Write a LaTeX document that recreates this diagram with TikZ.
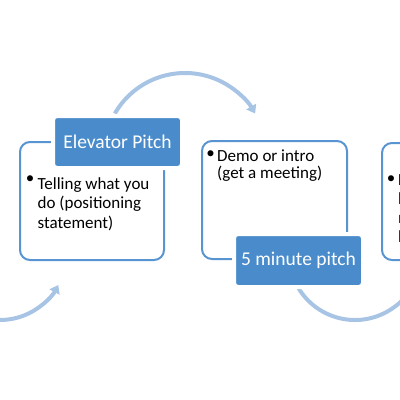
\documentclass[tikz,border=0pt]{standalone}
\usepackage{fontspec}
\setmainfont{Carlito}
\usetikzlibrary{arrows.meta, positioning}
\definecolor{PitchBlue}{RGB}{74, 140, 203}
\definecolor{PitchEdge}{RGB}{88, 148, 210}
\definecolor{PitchArc}{RGB}{168, 196, 229}

\begin{document}
\begin{tikzpicture}[
    x=1pt, y=-1pt,
    >={Triangle[length=8pt, width=11pt]},
    every node/.style={inner sep=0pt},
    stage/.style={rectangle, rounded corners=10pt, draw=PitchEdge, line width=2pt,
                  fill=white, anchor=north west},
    tag/.style={rectangle, rounded corners=4pt, draw=white, line width=4pt,
                fill=PitchBlue, text=white, anchor=north west,
                font=\fontsize{19.5pt}{24pt}\selectfont},
    point/.style={align=left, anchor=north west,
                  font=\fontsize{17pt}{19.5pt}\selectfont},
    dot/.style={font=\fontsize{17pt}{19pt}\selectfont},
    flow/.style={->, draw=PitchArc, line width=4pt}
]

\useasboundingbox (0,0) rectangle (400,400);
\clip (0,0) rectangle (400,400);

% --- Arc centres --------------------------------------------------------
\coordinate (hub1) at (0,254);
\coordinate (hub2) at (185,154);
\coordinate (hub3) at (355,254);

% --- Flow arcs ----------------------------------------------------------
\draw[flow] ([shift={(-120:66pt)}]hub1) arc[start angle=-120, end angle=-28, radius=66pt];
\draw[flow] ([shift={(150:81pt)}]hub2)  arc[start angle=150, end angle=30, radius=81pt];
\draw[flow] ([shift={(208:66pt)}]hub3)  arc[start angle=208, end angle=345, radius=66pt];

% --- Stages -------------------------------------------------------------
\node[stage, minimum width=144pt, minimum height=118pt] (box1) at (19,141)  {};
\node[stage, minimum width=145pt, minimum height=118pt] (box2) at (201,140) {};
\node[stage, minimum width=145pt, minimum height=117pt] (box3) at (381,142) {};

% --- Bullet points ------------------------------------------------------
\node[dot] (dot1) at (30,180)  {\textbullet};
\node[point] (txt1) at (37.5,177) {Telling what you\\do (positioning\\statement)};
\node[dot] (dot2) at (210.5,155) {\textbullet};
\node[point, font=\fontsize{17pt}{17pt}\selectfont] (txt2) at (217,149.5)
      {Demo or intro\\(get a meeting)};
\node[dot] (dot3) at (391,180) {\textbullet};
\node[point, font=\fontsize{17pt}{19pt}\selectfont] (txt3) at (398,173)
      {Full pitch\\business\\model and\\lots more};

% --- Stage tags ---------------------------------------------------------
\node[tag, minimum width=129pt, minimum height=52pt] (tag1) at (51,114) {Elevator Pitch};
\node[tag, minimum width=129pt, minimum height=53pt] (tag2) at (232,232) {5 minute pitch};

\end{tikzpicture}
\end{document}
